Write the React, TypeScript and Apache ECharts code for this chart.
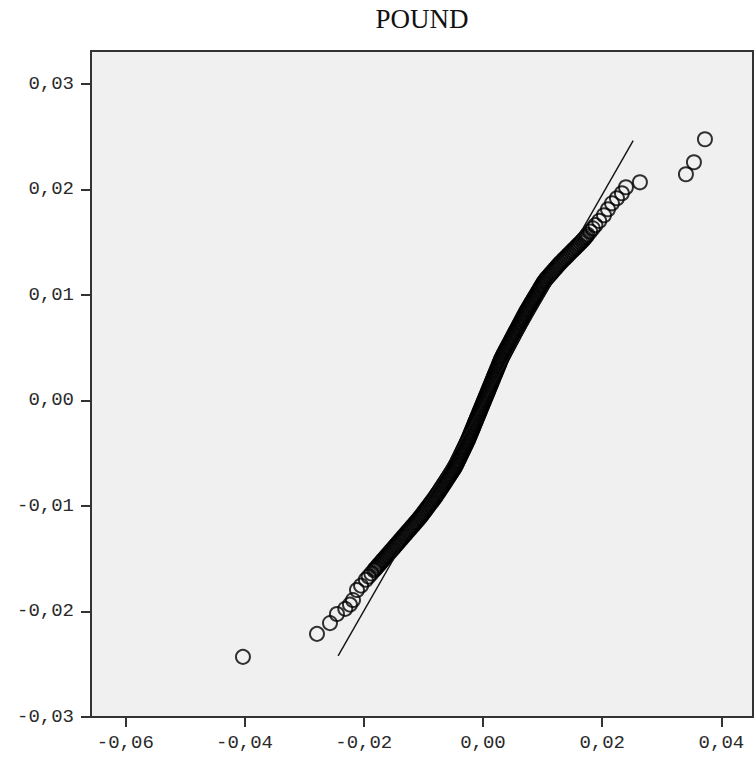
import React, { useEffect, useRef } from "react";
import * as echarts from "echarts";

const chartTitle = "POUND";

// Observed value (x) and expected normal value (y), ordered
const observed: number[] = [
  -0.04026, -0.02784, -0.02566, -0.02449, -0.0231, -0.02231, -0.0218, -0.02113, -0.02045,
  -0.01964, -0.01918, -0.01872, -0.01826, -0.0178, -0.01734, -0.01688, -0.01641, -0.01595, -0.01549,
  -0.01503, -0.01457, -0.01411, -0.01365, -0.01319, -0.01273, -0.01226, -0.0118, -0.01134, -0.01088,
  -0.01044, -0.01004, -0.00964, -0.00924, -0.00884, -0.00844, -0.00804, -0.00769,
  -0.00733, -0.00698, -0.00663, -0.00628, -0.00594, -0.00559, -0.00524, -0.00489,
  -0.00459, -0.00433, -0.00408, -0.00382, -0.00357, -0.00331, -0.00306, -0.0028, -0.00255,
  -0.00232, -0.00211, -0.00189, -0.00167, -0.00145, -0.00124, -0.00102, -0.0008, -0.00058, -0.00037,
  -0.00015, 0.00007, 0.00029, 0.00051, 0.00073, 0.00094, 0.00116, 0.00138, 0.0016, 0.00181,
  0.00203, 0.00225, 0.00247, 0.00268, 0.0029, 0.00312,
  0.00339, 0.00367, 0.00395, 0.00423, 0.00452, 0.0048, 0.00508, 0.00536, 0.00564, 0.00593,
  0.00621, 0.00649, 0.00677, 0.00705, 0.00734,
  0.00766, 0.00797, 0.00829, 0.00861, 0.00893, 0.00925, 0.00956, 0.00988, 0.0102,
  0.01059, 0.01106, 0.01153, 0.01199, 0.01246,
  0.01293, 0.01346, 0.01399, 0.01452, 0.01505, 0.01558, 0.01611, 0.01664,
  0.01711, 0.01754, 0.01798, 0.01842, 0.01886,
  0.0195, 0.0203, 0.02097, 0.02164, 0.02248, 0.02331, 0.02399, 0.02633, 0.03405, 0.03539, 0.03724,
];

const expected: number[] = [
  -0.0243, -0.02212, -0.0211, -0.02024, -0.01975, -0.01935, -0.01892, -0.01797, -0.01755,
  -0.017, -0.0167, -0.0164, -0.0161, -0.0158, -0.0155, -0.0152, -0.0149, -0.0146, -0.0143,
  -0.014, -0.0137, -0.0134, -0.0131, -0.0128, -0.0125, -0.0122, -0.0119, -0.0116, -0.0113,
  -0.011, -0.0107, -0.0104, -0.0101, -0.0098, -0.0095, -0.0092, -0.0089,
  -0.0086, -0.0083, -0.008, -0.0077, -0.0074, -0.0071, -0.0068, -0.0065,
  -0.0062, -0.0059, -0.0056, -0.0053, -0.005, -0.0047, -0.0044, -0.0041, -0.0038,
  -0.0035, -0.0032, -0.0029, -0.0026, -0.0023, -0.002, -0.0017, -0.0014, -0.0011, -0.0008,
  -0.0005, -0.0002, 0.0001, 0.0004, 0.0007, 0.001, 0.0013, 0.0016, 0.0019, 0.0022,
  0.0025, 0.0028, 0.0031, 0.0034, 0.0037, 0.004,
  0.0043, 0.0046, 0.0049, 0.0052, 0.0055, 0.0058, 0.0061, 0.0064, 0.0067, 0.007,
  0.0073, 0.0076, 0.0079, 0.0082, 0.0085,
  0.0088, 0.0091, 0.0094, 0.0097, 0.01, 0.0103, 0.0106, 0.0109, 0.0112,
  0.0115, 0.0118, 0.0121, 0.0124, 0.0127,
  0.013, 0.0133, 0.0136, 0.0139, 0.0142, 0.0145, 0.0148, 0.0151,
  0.0154, 0.0157, 0.016, 0.0163, 0.0166,
  0.017, 0.01754, 0.01811, 0.01867, 0.01915, 0.01962, 0.02019, 0.02066, 0.02142, 0.02256, 0.02474,
];

// Further observations packed inside the dense central band
const observedBand: number[] = [
  -0.01803, -0.01757, -0.01711, -0.01665, -0.01618, -0.01572,
  -0.01526, -0.0148, -0.01434, -0.01388, -0.01342, -0.01296, -0.0125, -0.01203, -0.01157, -0.01111,
  -0.01066, -0.01024, -0.00984, -0.00944, -0.00904, -0.00864, -0.00824, -0.00787,
  -0.00751, -0.00716, -0.00681, -0.00646, -0.00611, -0.00577, -0.00542, -0.00507,
  -0.00474, -0.00446, -0.00421, -0.00395, -0.0037, -0.00344, -0.00319, -0.00293, -0.00268,
  -0.00244, -0.00222, -0.002, -0.00178, -0.00156, -0.00135, -0.00113, -0.00091, -0.00069, -0.00048,
  -0.00026, -0.00004, 0.00018, 0.0004, 0.00062, 0.00084, 0.00105, 0.00127, 0.00149, 0.00171,
  0.00192, 0.00214, 0.00236, 0.00258, 0.00279, 0.00301,
  0.00326, 0.00353, 0.00381, 0.00409, 0.00438, 0.00466, 0.00494, 0.00522, 0.0055, 0.00579,
  0.00607, 0.00635, 0.00663, 0.00691, 0.0072,
  0.0075, 0.00782, 0.00813, 0.00845, 0.00877, 0.00909, 0.00941, 0.00972, 0.01004,
  0.0104, 0.01083, 0.0113, 0.01176, 0.01223,
  0.0127, 0.0132, 0.01373, 0.01426, 0.01479, 0.01532, 0.01585,
  0.01638, 0.01688, 0.01733,
];

const expectedBand: number[] = [
  -0.01595, -0.01565, -0.01535, -0.01505, -0.01475, -0.01445,
  -0.01415, -0.01385, -0.01355, -0.01325, -0.01295, -0.01265, -0.01235, -0.01205, -0.01175, -0.01145,
  -0.01115, -0.01085, -0.01055, -0.01025, -0.00995, -0.00965, -0.00935, -0.00905,
  -0.00875, -0.00845, -0.00815, -0.00785, -0.00755, -0.00725, -0.00695, -0.00665,
  -0.00635, -0.00605, -0.00575, -0.00545, -0.00515, -0.00485, -0.00455, -0.00425, -0.00395,
  -0.00365, -0.00335, -0.00305, -0.00275, -0.00245, -0.00215, -0.00185, -0.00155, -0.00125, -0.00095,
  -0.00065, -0.00035, -0.00005, 0.00025, 0.00055, 0.00085, 0.00115, 0.00145, 0.00175, 0.00205,
  0.00235, 0.00265, 0.00295, 0.00325, 0.00355, 0.00385,
  0.00415, 0.00445, 0.00475, 0.00505, 0.00535, 0.00565, 0.00595, 0.00625, 0.00655, 0.00685,
  0.00715, 0.00745, 0.00775, 0.00805, 0.00835,
  0.00865, 0.00895, 0.00925, 0.00955, 0.00985, 0.01015, 0.01045, 0.01075, 0.01105,
  0.01135, 0.01165, 0.01195, 0.01225, 0.01255,
  0.01285, 0.01315, 0.01345, 0.01375, 0.01405, 0.01435, 0.01465,
  0.01495, 0.01525, 0.01555,
];

// Reference line end points [x, y]
const refLineX: number[] = [-0.0243, 0.0252];
const refLineY: number[] = [-0.0242, 0.0246];

const xTicks: number[] = [-0.06, -0.04, -0.02, 0.0, 0.02, 0.04];
const yTicks: number[] = [-0.03, -0.02, -0.01, 0.0, 0.01, 0.02, 0.03];

const fmt = (v: number) => (Math.abs(v) < 1e-9 ? 0 : v).toFixed(2).replace(".", ",");

export default function App() {
  const ref = useRef<HTMLDivElement>(null);
  useEffect(() => {
    if (!ref.current) return;
    const chart = echarts.init(ref.current, undefined, { renderer: "svg" });
    const points = observed
      .map((x, i) => [x, expected[i]])
      .concat(observedBand.map((x, i) => [x, expectedBand[i]]));
    const line = refLineX.map((x, i) => [x, refLineY[i]]);
    const labelStyle = {
      fontFamily: "Liberation Mono",
      fontSize: 19,
      color: "#2a2a2a",
    };
    chart.setOption({
      animation: false,
      backgroundColor: "#ffffff",
      graphic: [
        {
          type: "text",
          x: 422,
          y: 19,
          style: {
            text: chartTitle,
            fontFamily: "Liberation Serif",
            fontSize: 27,
            fill: "#111",
            align: "center",
            verticalAlign: "middle",
          },
        },
      ],
      grid: {
        left: 91,
        top: 51,
        right: 3,
        bottom: 50,
        show: true,
        backgroundColor: "#f0f0f0",
        borderColor: "#333",
        borderWidth: 2,
      },
      xAxis: {
        type: "value",
        min: -0.06575,
        max: 0.0453,
        splitLine: { show: false },
        axisLine: { show: true, onZero: false, lineStyle: { color: "#333", width: 2 } },
        axisTick: { show: true, length: 10, customValues: xTicks, lineStyle: { color: "#333", width: 2 } },
        axisLabel: { ...labelStyle, margin: 16, customValues: xTicks, formatter: fmt },
      },
      yAxis: {
        type: "value",
        min: -0.03,
        max: 0.0331,
        splitLine: { show: false },
        axisLine: { show: true, onZero: false, lineStyle: { color: "#333", width: 2 } },
        axisTick: { show: true, length: 10, customValues: yTicks, lineStyle: { color: "#333", width: 2 } },
        axisLabel: { ...labelStyle, margin: 17, customValues: yTicks, formatter: fmt },
      },
      series: [
        {
          type: "scatter",
          data: points,
          symbol: "circle",
          symbolSize: 14,
          silent: true,
          itemStyle: { color: "rgba(0,0,0,0)", borderColor: "#000", borderWidth: 2 },
          z: 2,
        },
        {
          type: "line",
          data: line,
          symbol: "none",
          silent: true,
          lineStyle: { color: "#111", width: 1.4 },
          z: 3,
        },
      ],
    });
    return () => chart.dispose();
  }, []);
  return (
    <div
      ref={ref}
      style={{ position: "absolute", left: 0, top: 0, width: 756, height: 767 }}
    />
  );
}
